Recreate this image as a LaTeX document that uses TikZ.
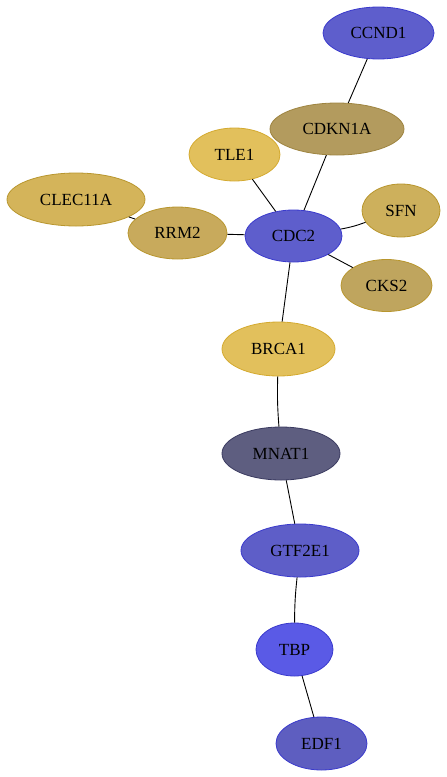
\documentclass[tikz,border=0pt]{standalone}
\usepackage{fontspec}
\setmainfont{Liberation Serif}
\usetikzlibrary{shapes.geometric}
\definecolor{bluef}{HTML}{5E5ECC}\definecolor{blued}{HTML}{3A3ACC}
\definecolor{tanf}{HTML}{B39B5E}\definecolor{tand}{HTML}{9E8440}
\definecolor{goldf}{HTML}{E2C05C}\definecolor{goldd}{HTML}{D4AA30}
\definecolor{clecf}{HTML}{D4B45A}\definecolor{rrmf}{HTML}{C8AA5C}
\definecolor{sfnf}{HTML}{CDB05C}\definecolor{cksf}{HTML}{BFA55E}
\definecolor{ochd}{HTML}{B8962E}
\definecolor{mnatf}{HTML}{5E5E80}\definecolor{mnatd}{HTML}{3A3A60}
\definecolor{gtff}{HTML}{5E5EC8}\definecolor{tbpf}{HTML}{5A5AE6}\definecolor{edff}{HTML}{5E5EC0}
\tikzset{
  gn/.style n args={2}{ellipse, inner sep=0pt, minimum width=#1pt, minimum height=#2pt, font=\fontsize{17}{17}\selectfont, line width=0.8pt},
  edge/.style={draw=black, line width=0.9pt}
}
\begin{document}
\begin{tikzpicture}[x=1pt,y=-1pt]
\useasboundingbox (0,0) rectangle (447,777);
\node[gn={111}{52}, fill=bluef, draw=blued] (CCND1) at (378.5,33) {CCND1};
\node[gn={134}{52}, fill=tanf, draw=tand] (CDKN1A) at (337,129) {CDKN1A};
\node[gn={91}{53}, fill=goldf, draw=goldd] (TLE1) at (234.5,154.5) {TLE1};
\node[gn={138}{53}, fill=clecf, draw=ochd] (CLEC11A) at (76,199.5) {CLEC11A};
\node[gn={99}{52}, fill=rrmf, draw=ochd] (RRM2) at (177.5,233) {RRM2};
\node[gn={97}{52}, fill=bluef, draw=blued] (CDC2) at (293.5,236) {CDC2};
\node[gn={78}{53}, fill=sfnf, draw=ochd] (SFN) at (401,210.5) {SFN};
\node[gn={91}{52}, fill=cksf, draw=ochd] (CKS2) at (386.5,285.5) {CKS2};
\node[gn={113}{54}, fill=goldf, draw=goldd] (BRCA1) at (278.5,349) {BRCA1};
\node[gn={118}{53}, fill=mnatf, draw=mnatd] (MNAT1) at (281,453.5) {MNAT1};
\node[gn={118}{53}, fill=gtff, draw=blued] (GTF2E1) at (300,550.5) {GTF2E1};
\node[gn={77}{53}, fill=tbpf, draw=blued] (TBP) at (294.5,649.5) {TBP};
\node[gn={91}{53}, fill=edff, draw=blued] (EDF1) at (321.5,743.5) {EDF1};
\begin{scope}[on background layer/.style={}]
\end{scope}
\path[edge] (CCND1) -- (CDKN1A);
\path[edge] (CDKN1A) -- (CDC2);
\path[edge] (TLE1) -- (CDC2);
\path[edge] (CLEC11A) -- (RRM2);
\path[edge] (RRM2) -- (CDC2);
\path[edge] (SFN) to[bend left=5] (CDC2);
\path[edge] (CKS2) -- (CDC2);
\path[edge] (CDC2) -- (BRCA1);
\path[edge] (BRCA1) to[bend right=3] (MNAT1);
\path[edge] (MNAT1) -- (GTF2E1);
\path[edge] (GTF2E1) to[bend right=3] (TBP);
\path[edge] (TBP) -- (EDF1);
\end{tikzpicture}
\end{document}
